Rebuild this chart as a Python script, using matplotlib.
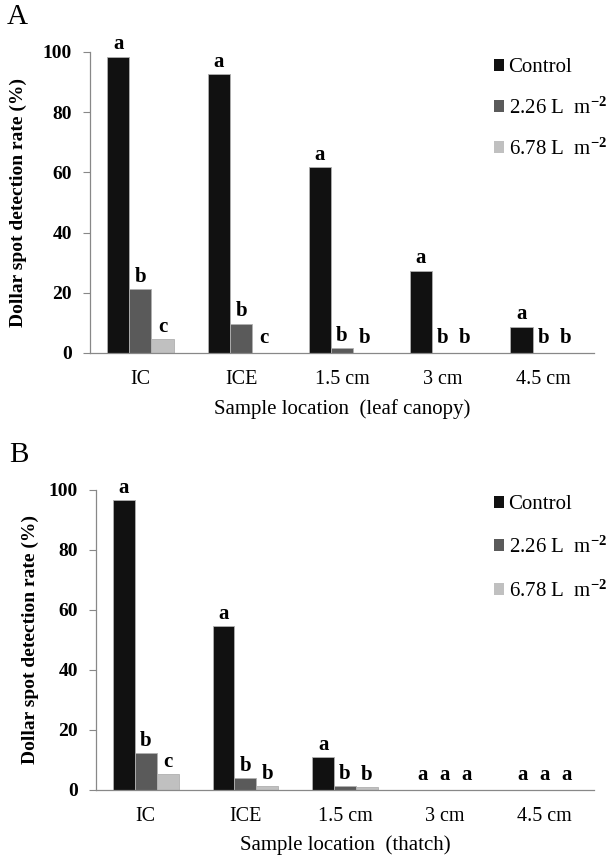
import numpy as np
import matplotlib
matplotlib.use("Agg")
import matplotlib.pyplot as plt
from matplotlib.patches import Patch

plt.rcParams["font.family"] = ["Liberation Serif", "DejaVu Serif"]
plt.rcParams["mathtext.fontset"] = "custom"
plt.rcParams["mathtext.rm"] = "Liberation Serif"
plt.rcParams["mathtext.it"] = "Liberation Serif:italic"
plt.rcParams["mathtext.bf"] = "Liberation Serif:bold"

# data
locations = ["IC", "ICE", "1.5 cm", "3 cm", "4.5 cm"]
series = ["Control", "2.26 L  m$^{\\mathbf{-2}}$", "6.78 L  m$^{\\mathbf{-2}}$"]
colors = ["#111111", "#5a5a5a", "#c0c0c0"]

# panel A - leaf canopy
canopy_control = [98.5, 92.8, 61.8, 27.4, 8.8]
canopy_226 = [21.1, 9.8, 1.7, 0.0, 0.0]
canopy_678 = [4.5, 0.0, 0.0, 0.0, 0.0]
canopy_letters = [["a", "a", "a", "a", "a"],
                  ["b", "b", "b", "b", "b"],
                  ["c", "c", "b", "b", "b"]]

# panel B - thatch
thatch_control = [96.6, 54.6, 11.0, 0.0, 0.0]
thatch_226 = [12.4, 4.0, 1.3, 0.0, 0.0]
thatch_678 = [5.3, 1.4, 1.0, 0.0, 0.0]
thatch_letters = [["a", "a", "a", "a", "a"],
                  ["b", "b", "b", "a", "a"],
                  ["c", "b", "b", "a", "a"]]

W, H = 609, 861
fig = plt.figure(figsize=(W / 100, H / 100), dpi=100)


def px_box(left, right, y0, y100):
    return [left / W, 1 - y0 / H, (right - left) / W, (y0 - y100) / H]


def draw_panel(box, vals, letters, xlabel, panel, ylab_x, leg_anchor, leg_space):
    ax = fig.add_axes(box)
    x = np.arange(len(locations))
    w = 0.22
    for k, (v, c, lab) in enumerate(zip(vals, colors, series)):
        xs = x + (k - 1) * w
        ax.bar(xs, v, width=w, color=c, edgecolor="#b0b0b0", linewidth=0.6, label=lab)
        for xi, vi, t in zip(xs, v, letters[k]):
            ax.annotate(t, (xi, vi), xytext=(0, 1.5 if vi > 0 else 3.5),
                        textcoords="offset points", ha="center", va="bottom",
                        fontsize=15, fontweight="bold", annotation_clip=False)

    ax.set_xlim(-0.5, len(locations) - 0.5)
    ax.set_ylim(0, 100)
    ax.set_yticks(range(0, 101, 20))
    ax.set_xticks(x)
    ax.set_xticklabels(locations, fontsize=14.5)
    for lbl in ax.get_yticklabels():
        lbl.set_fontweight("bold")
        lbl.set_fontsize(14)
    ax.tick_params(axis="x", length=0, pad=12)
    ax.tick_params(axis="y", length=5, width=0.8, color="#888888", pad=8)

    for s in ("top", "right"):
        ax.spines[s].set_visible(False)
    for s in ("left", "bottom"):
        ax.spines[s].set_color("#888888")
        ax.spines[s].set_linewidth(0.9)

    ax.set_ylabel("Dollar spot detection rate (%)", fontsize=14, fontweight="bold")
    ax.yaxis.set_label_coords(ylab_x, 0.5)
    ax.set_xlabel(xlabel, fontsize=15)
    ax.xaxis.set_label_coords(0.5, -0.152)

    ax.text(-0.165 if panel == "A" else -0.175, 1.115, panel, transform=ax.transAxes,
            fontsize=21, ha="left", va="center")

    handles = [Patch(facecolor=c, edgecolor="none") for c in colors]
    fig.legend(handles, series, loc="upper left", bbox_to_anchor=leg_anchor,
               frameon=False, fontsize=15, handlelength=0.5, handleheight=0.5,
               handletextpad=0.2, labelspacing=leg_space, borderpad=0, borderaxespad=0)
    return ax


draw_panel(px_box(90, 594, 353, 52), [canopy_control, canopy_226, canopy_678],
           canopy_letters, "Sample location  (leaf canopy)", "A", -0.125,
           (494 / W, 1 - 58 / H), 0.97)
draw_panel(px_box(96, 594, 790, 490), [thatch_control, thatch_226, thatch_678],
           thatch_letters, "Sample location  (thatch)", "B", -0.115,
           (494 / W, 1 - 495 / H), 1.08)

fig.savefig("out.png", dpi=100)
